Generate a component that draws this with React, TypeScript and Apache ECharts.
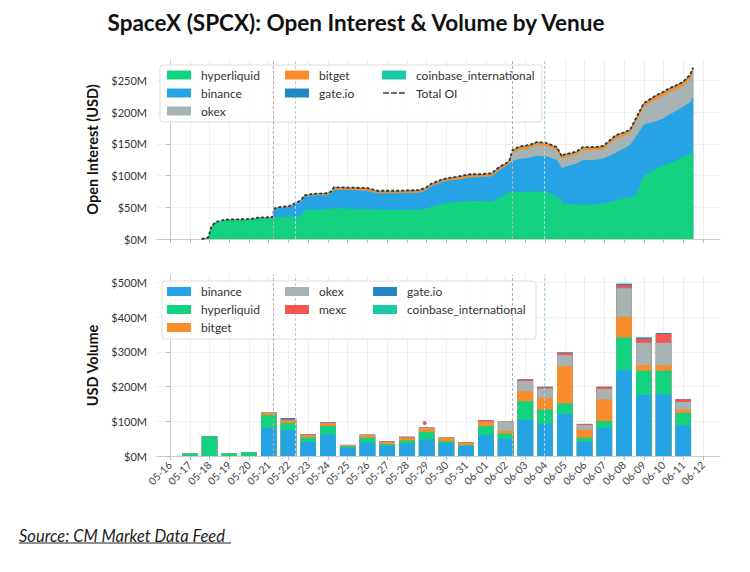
import React, { useEffect, useRef } from "react";
import * as echarts from "echarts";

// ---------- data ----------
const dates = [
  "05-16", "05-17", "05-18", "05-19", "05-20", "05-21", "05-22", "05-23", "05-24", "05-25",
  "05-26", "05-27", "05-28", "05-29", "05-30", "05-31", "06-01", "06-02", "06-03", "06-04",
  "06-05", "06-06", "06-07", "06-08", "06-09", "06-10", "06-11", "06-12",
];

// Open interest sample times (days since 05-16) and values in $M
const oiDays = [
  1.6, 1.93, 2.1, 2.3, 2.8, 3.5, 4.05, 4.4, 5.05, 5.22,
  5.26, 5.6, 6.0, 6.4, 6.66, 6.8, 7.2, 7.9, 8.15, 8.3,
  9.0, 9.96, 10.5, 11.5, 12.6, 13.0, 13.2, 13.7, 14.0, 14.5,
  15.2, 15.7, 16.3, 16.7, 17.05, 17.2, 17.35, 17.7, 18.2, 18.6,
  19.1, 19.6, 19.85, 19.95, 20.6, 20.9, 21.6, 21.95, 22.6, 23.0,
  23.3, 23.6, 24.0, 24.65, 25.0, 25.3, 25.7, 26.0, 26.34, 26.5,
];
const oiHyperliquid = [
  0, 2, 19, 25.5, 29.5, 30, 30.5, 32.5, 33, 33.5,
  34, 34.5, 35, 35.5, 36, 45.5, 46, 47, 47.5, 48.5,
  48, 47, 46.5, 45.5, 46, 48, 51, 55, 57, 58.5,
  60, 60, 59, 65, 72, 73, 73.5, 74, 74.6, 75,
  74.5, 67, 60, 56, 53.5, 54, 54.7, 56, 61, 64,
  66, 69, 100, 111, 116, 119, 124.6, 130, 134, 138,
];
const oiBinance = [
  0, 0, 0, 0, 0, 0, 0, 0, 0, 0,
  12.5, 14.5, 14.5, 19.5, 24, 20.5, 22.5, 22, 24, 29,
  29, 29, 25.5, 26.5, 27, 29.5, 31.5, 34, 34.5, 35,
  37, 37.5, 40, 44, 43, 46, 49.5, 52, 53.4, 56,
  55.5, 57.6, 51.5, 57, 65.5, 70, 70.3, 71, 75, 79,
  82, 92, 80, 75, 74, 77, 78.4, 78.6, 81, 86,
];
const oiOkex = [
  0, 0, 0, 0, 0, 0, 0, 0, 0, 0,
  0, 0, 0, 0, 0, 0, 0, 0, 0, 0,
  0, 0, 0, 0, 0, 0, 0, 0, 0, 0,
  0, 0, 0, 0, 0, 0, 12, 14.5, 15, 17,
  16, 15, 13.5, 15, 13.7, 15.5, 15, 14.5, 22.5, 19.5,
  18.5, 23, 28, 34.5, 35.5, 35, 33.5, 32.5, 36.5, 38.5,
];
const oiBitget = [
  0, 0.3, 0.4, 0.8, 0.8, 0.8, 0.8, 0.8, 1.2, 1.2,
  1.2, 1.2, 1.6, 1.6, 1.6, 2, 2, 2.4, 2.4, 3.2,
  3.2, 3.6, 3.2, 3.2, 3.2, 3.2, 3.2, 3.2, 3.2, 3.6,
  4, 3.6, 3.7, 4, 4, 4.5, 4, 4.1, 4, 4,
  4, 4, 4, 4, 4, 4.1, 4, 4.2, 4.5, 4.5,
  4.5, 5, 5, 5.2, 5.2, 5.3, 5.2, 5.6, 5.8, 6.2,
];
const oiGateio = [
  0, 0, 0.1, 0.2, 0.2, 0.2, 0.2, 0.2, 0.3, 0.3,
  0.3, 0.3, 0.4, 0.4, 0.4, 0.5, 0.5, 0.6, 0.6, 0.6,
  0.6, 0.7, 0.6, 0.6, 0.6, 0.6, 0.6, 0.6, 0.6, 0.7,
  0.8, 0.7, 0.7, 0.8, 0.8, 0.9, 0.8, 0.8, 0.8, 0.8,
  0.8, 0.8, 0.8, 0.8, 0.8, 0.8, 0.8, 0.8, 0.8, 0.8,
  0.8, 0.8, 0.8, 1, 1, 1, 1, 1, 1, 1,
];
const oiCoinbase = [
  0, 0, 0, 0, 0, 0, 0, 0, 0, 0,
  0, 0, 0, 0, 0, 0, 0, 0, 0, 0.2,
  0.2, 0.2, 0.2, 0.2, 0.2, 0.2, 0.2, 0.2, 0.2, 0.2,
  0.2, 0.2, 0.2, 0.2, 0.2, 0.2, 0.2, 0.2, 0.2, 0.2,
  0.2, 0.2, 0.2, 0.2, 0.2, 0.2, 0.2, 0.2, 0.2, 0.2,
  0.2, 0.2, 0.2, 0.3, 0.3, 0.3, 0.3, 0.3, 0.3, 0.3,
];

// Daily volume in $M, one value per date
const volBinance = [0, 0, 0, 0, 0, 81, 75, 40.5, 62.5, 24, 38.5, 29, 35.5, 47.5, 36, 29, 60, 50, 105, 93.5, 120.5, 40.5, 81, 247.5, 175.5, 177.5, 88.5, 0];
const volHyperliquid = [0, 7, 57, 7.5, 11, 37, 20, 12.5, 24, 4, 14.5, 5, 9.5, 22, 6.5, 2.5, 26.5, 14.5, 53, 40.5, 31, 12.5, 20, 94.5, 70, 68, 35.5, 0];
const volBitget = [0, 0, 0, 0, 0, 6, 7, 6.5, 6, 3, 7, 5, 7.5, 9.5, 10, 7, 11.5, 8, 29, 33.5, 107.5, 23, 63, 59.5, 16.5, 16.5, 10, 0];
const volOkex = [0, 0, 0, 0, 0, 0.5, 1, 0, 1.5, 0.5, 0, 0.5, 0.5, 1.5, 0.5, 0, 1, 27.5, 29, 27, 32, 13.5, 29, 82, 64.5, 64.5, 22, 0];
const volMexc = [0, 0, 0, 0, 0, 0.8, 3, 2.5, 3, 0.5, 1.5, 2.5, 2.5, 1.5, 0.5, 1.5, 4, 1, 4.5, 4, 6.5, 3, 6.5, 9, 11.5, 25, 8, 0];
const volGateio = [0, 0, 0, 0, 0, 0, 3.5, 0, 0, 0, 0, 0, 0, 0, 0, 0, 0, 0, 0.5, 1, 1, 0, 0, 4, 4, 3, 0, 0];
const volCoinbase = [0, 0, 0, 0, 0, 0, 0, 0, 0, 0, 0, 0, 0, 0, 0, 0, 0, 0, 0, 0, 0.5, 0, 0, 0, 0, 0, 0, 0];
const mexcOutlier = [[12.9, 95]];

// event markers (days since 05-16)
const eventDays = [5.23, 6.33, 17.34, 18.95];

const oiTicks = [0, 50, 100, 150, 200, 250];
const volTicks = [0, 100, 200, 300, 400, 500];

const TITLE = "SpaceX (SPCX): Open Interest & Volume by Venue";
const SOURCE = "Source: CM Market Data Feed";

// ---------- style ----------
const FONT = "Lato, 'Noto Sans', sans-serif";
const COLORS: Record<string, string> = {
  hyperliquid: "#12d17f",
  binance: "#25a3e4",
  okex: "#a7b2b2",
  bitget: "#f98d2c",
  "gate.io": "#2387c6",
  coinbase_international: "#1cc9a6",
  mexc: "#f5554e",
  "Total OI": "#363636",
};
const DASH_ICON =
  "path://M0,0L0.01,0L0.01,0.01Z M0,4.2h6.5v1.6h-6.5z M8.75,4.2h6.5v1.6h-6.5z M17.5,4.2h6.5v1.6h-6.5z M23.99,10L24,10L24,9.99Z";

// running sums of layers (bottom to top)
function cumulate(layers: number[][]): number[][] {
  const out: number[][] = [];
  layers.forEach((arr, k) => {
    out.push(arr.map((v, i) => (k === 0 ? v : out[k - 1][i] + v)));
  });
  return out;
}

export default function App() {
  const ref = useRef<HTMLDivElement>(null);

  useEffect(() => {
    if (!ref.current) return;
    const chart = echarts.init(ref.current, undefined, { renderer: "svg" });
    const dayTicks = dates.map((_, i) => i);

    const xAxis = (gridIndex: number, labels: boolean) => ({
      type: "value",
      gridIndex,
      min: -0.66,
      max: 27.86,
      axisLine: { show: true, lineStyle: { color: "#cccccc", width: 1 } },
      axisTick: { show: true, length: 4, lineStyle: { color: "#bdbdbd" }, customValues: dayTicks },
      axisLabel: labels
        ? {
            show: true,
            customValues: dayTicks,
            formatter: (v: number) => dates[Math.round(v)] ?? "",
            rotate: 45,
            fontSize: 10.5,
            color: "#444",
            margin: 7,
            fontFamily: FONT,
          }
        : { show: false, customValues: dayTicks },
      splitLine: { show: true, lineStyle: { color: "#efefef", width: 1 } },
    });

    const yAxis = (gridIndex: number, max: number, ticks: number[], name: string) => ({
      type: "value",
      gridIndex,
      min: 0,
      max,
      name,
      nameLocation: "middle",
      nameGap: 56,
      nameTextStyle: { fontFamily: FONT, fontSize: 14.5, fontWeight: "bold", color: "#111" },
      axisLine: { show: true, lineStyle: { color: "#cccccc", width: 1 } },
      axisTick: { show: true, length: 4, lineStyle: { color: "#bdbdbd" }, customValues: ticks },
      axisLabel: {
        customValues: ticks,
        formatter: (v: number) => `$${v}M`,
        fontSize: 11,
        color: "#333",
        margin: 10,
        fontFamily: FONT,
      },
      splitLine: { show: true, lineStyle: { color: "#efefef", width: 1 } },
    });

    const markLine = {
      silent: true,
      symbol: ["none", "none"],
      label: { show: false },
      data: eventDays.map((d, i) => ({
        xAxis: d,
        lineStyle: { color: i % 2 === 0 ? "#b8b0a8" : "#a8d2ea", type: [3, 2], width: 1 },
      })),
    };

    // ---- open interest: cumulative layers, drawn top-most first ----
    const oiNames = ["hyperliquid", "binance", "okex", "bitget", "gate.io", "coinbase_international"];
    const oiCum = cumulate([oiHyperliquid, oiBinance, oiOkex, oiBitget, oiGateio, oiCoinbase]);
    const oiSeries = oiNames
      .map((name, k) => ({
        type: "line",
        name,
        xAxisIndex: 0,
        yAxisIndex: 0,
        data: oiDays.map((d, i) => [d, oiCum[k][i]]),
        symbol: "none",
        showSymbol: false,
        color: COLORS[name],
        itemStyle: { color: COLORS[name] },
        lineStyle: { width: 0, color: COLORS[name] },
        areaStyle: { color: COLORS[name], opacity: 1, origin: "start" },
        z: 2,
        ...(k === 0 ? { markLine } : {}),
      }))
      .reverse();
    const totalOI = oiDays.map((d, i) => [d, oiCum[oiCum.length - 1][i]]);

    // ---- volume: cumulative bars overlapped, drawn top-most first ----
    const volNames = ["binance", "hyperliquid", "bitget", "okex", "mexc", "gate.io", "coinbase_international"];
    const volCum = cumulate([volBinance, volHyperliquid, volBitget, volOkex, volMexc, volGateio, volCoinbase]);
    const volSeries = volNames
      .map((name, k) => ({
        type: "bar",
        name,
        xAxisIndex: 1,
        yAxisIndex: 1,
        barWidth: 15.5,
        barGap: "-100%",
        data: volCum[k].map((v, i) => [i, v]),
        color: COLORS[name],
        itemStyle: { color: COLORS[name] },
        z: 2,
        ...(k === 0 ? { markLine } : {}),
      }))
      .reverse();

    const legendCol = (names: string[], left: number, top: number) => ({
      orient: "vertical",
      left,
      top,
      padding: 0,
      itemWidth: 24,
      itemHeight: 9,
      itemGap: 0,
      selectedMode: false,
      z: 10,
      data: names.map((n) => ({ name: n, icon: n === "Total OI" ? DASH_ICON : "rect" })),
      textStyle: { fontFamily: FONT, fontSize: 12, color: "#333", lineHeight: 18, padding: [0, 0, 0, 5] },
    });

    chart.setOption({
      animation: false,
      backgroundColor: "#ffffff",
      grid: [
        { left: 157, top: 60, width: 563, height: 179 },
        { left: 157, top: 275, width: 563, height: 181 },
      ],
      xAxis: [xAxis(0, false), xAxis(1, true)],
      yAxis: [yAxis(0, 282, oiTicks, "Open Interest (USD)"), yAxis(1, 522, volTicks, "USD Volume")],
      legend: [
        legendCol(["hyperliquid", "binance", "okex"], 167, 66),
        legendCol(["bitget", "gate.io"], 285, 66),
        legendCol(["coinbase_international", "Total OI"], 382, 66),
        legendCol(["binance", "hyperliquid", "bitget"], 167, 282.5),
        legendCol(["okex", "mexc"], 285, 282.5),
        legendCol(["gate.io", "coinbase_international"], 373, 282.5),
      ],
      graphic: {
        elements: [
          {
            type: "text",
            x: 356,
            y: 22.5,
            z: 10,
            style: {
              text: TITLE,
              textAlign: "center",
              textVerticalAlign: "middle",
              fontFamily: FONT,
              fontSize: 22.5,
              fontWeight: "bold",
              fill: "#111",
            },
          },
          {
            type: "rect",
            z: 5,
            shape: { x: 160, y: 65, width: 382, height: 57, r: 3 },
            style: { fill: "rgba(255,255,255,0.85)", stroke: "#dddddd", lineWidth: 1 },
          },
          {
            type: "rect",
            z: 5,
            shape: { x: 162, y: 281, width: 374, height: 58, r: 3 },
            style: { fill: "rgba(255,255,255,0.85)", stroke: "#dddddd", lineWidth: 1 },
          },
          {
            type: "text",
            z: 10,
            x: 19,
            y: 535.5,
            style: {
              text: SOURCE,
              textVerticalAlign: "middle",
              fontFamily: FONT,
              fontSize: 16.5,
              fontStyle: "italic",
              fill: "#222",
            },
          },
          {
            type: "line",
            z: 10,
            shape: { x1: 19, y1: 543, x2: 231, y2: 543 },
            style: { stroke: "#222", lineWidth: 1.2 },
          },
        ],
      },
      series: [
        ...oiSeries,
        {
          type: "line",
          name: "Total OI",
          xAxisIndex: 0,
          yAxisIndex: 0,
          data: totalOI,
          symbol: "none",
          showSymbol: false,
          color: COLORS["Total OI"],
          itemStyle: { color: COLORS["Total OI"] },
          lineStyle: { color: COLORS["Total OI"], width: 1.8, type: [3, 2] },
          z: 3,
        },
        ...volSeries,
        {
          type: "scatter",
          name: "mexc-outlier",
          xAxisIndex: 1,
          yAxisIndex: 1,
          data: mexcOutlier,
          symbolSize: 4,
          itemStyle: { color: "#e0302a" },
          z: 4,
        },
      ],
    });

    return () => chart.dispose();
  }, []);

  return (
    <div
      ref={ref}
      style={{ position: "fixed", left: 0, top: 0, width: 750, height: 572, background: "#fff" }}
    />
  );
}
